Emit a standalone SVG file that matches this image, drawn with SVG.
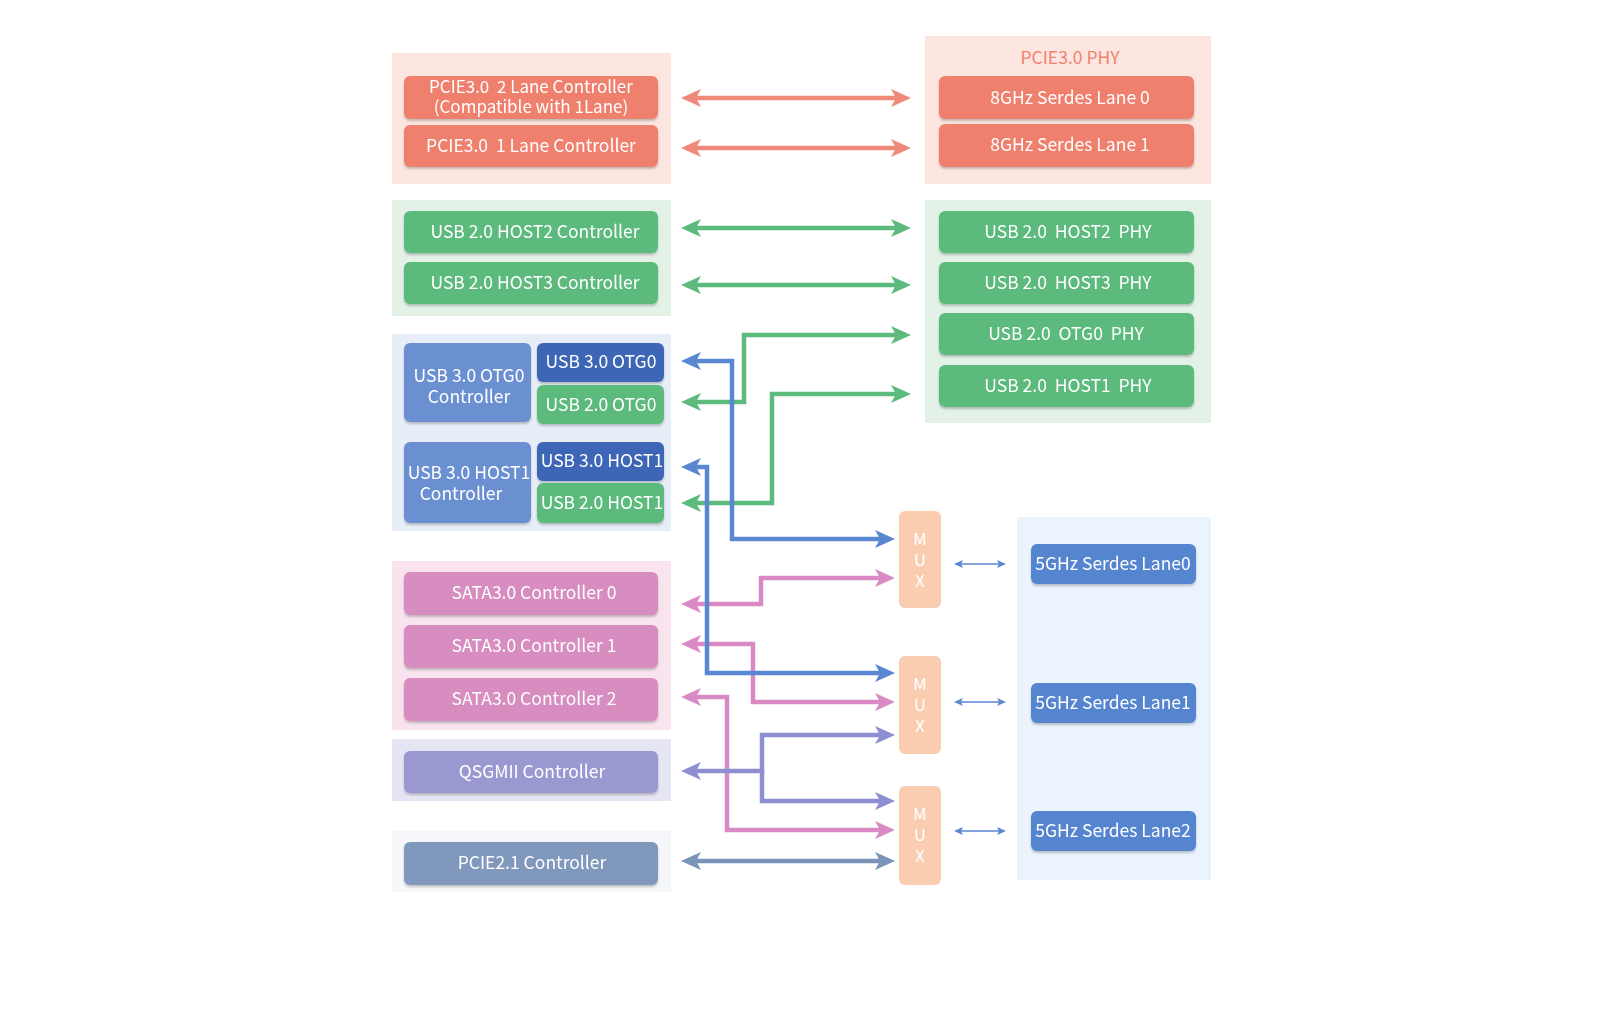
<svg xmlns="http://www.w3.org/2000/svg" width="1604" height="1028" viewBox="0 0 1604 1028">
<style>
text{font-family:"Noto Sans CJK SC","Noto Sans",sans-serif;font-size:17.5px;fill:#fff;text-anchor:middle;white-space:pre}
.two{font-size:17px}
.mux text{font-size:16.5px}
.box{filter:url(#sh)}
.c{fill:none;stroke-width:4.5;stroke-linejoin:miter}
.thin{fill:none;stroke:#5a87d2;stroke-width:1.5}
</style>
<defs>
<filter id="sh" x="-5%" y="-10%" width="110%" height="130%"><feDropShadow dx="0" dy="2" stdDeviation="0.8" flood-color="#000" flood-opacity="0.22"/></filter>
<marker id="aR" markerUnits="userSpaceOnUse" markerWidth="22" markerHeight="20" refX="14" refY="9" orient="auto-start-reverse"><path d="M0,0 L20,9 L0,18 L5,9 z" fill="#ef8a7a"/></marker>
<marker id="aG" markerUnits="userSpaceOnUse" markerWidth="22" markerHeight="20" refX="14" refY="9" orient="auto-start-reverse"><path d="M0,0 L20,9 L0,18 L5,9 z" fill="#5dba7d"/></marker>
<marker id="aB" markerUnits="userSpaceOnUse" markerWidth="22" markerHeight="20" refX="14" refY="9" orient="auto-start-reverse"><path d="M0,0 L20,9 L0,18 L5,9 z" fill="#5a87d2"/></marker>
<marker id="aP" markerUnits="userSpaceOnUse" markerWidth="22" markerHeight="20" refX="14" refY="9" orient="auto-start-reverse"><path d="M0,0 L20,9 L0,18 L5,9 z" fill="#d98ac4"/></marker>
<marker id="aV" markerUnits="userSpaceOnUse" markerWidth="22" markerHeight="20" refX="14" refY="9" orient="auto-start-reverse"><path d="M0,0 L20,9 L0,18 L5,9 z" fill="#8e8ed2"/></marker>
<marker id="aS" markerUnits="userSpaceOnUse" markerWidth="22" markerHeight="20" refX="14" refY="9" orient="auto-start-reverse"><path d="M0,0 L20,9 L0,18 L5,9 z" fill="#7a93b8"/></marker>
<marker id="aT" markerUnits="userSpaceOnUse" markerWidth="10" markerHeight="10" refX="6" refY="4" orient="auto-start-reverse"><path d="M0,0 L9,4 L0,8 L2,4 z" fill="#5a87d2"/></marker>
</defs>
<rect width="1604" height="1028" fill="#fff"/>

<!-- panels -->
<g id="panels">
<rect x="392" y="53" width="279" height="131" fill="#fde6e0"/>
<rect x="925" y="36" width="286" height="148" fill="#fde6e0"/>
<rect x="392" y="200" width="279" height="116" fill="#e3f1e7"/>
<rect x="925" y="200" width="286" height="223" fill="#e3f1e7"/>
<rect x="392" y="334" width="279" height="197" fill="#e8eef8"/>
<rect x="392" y="561" width="279" height="169" fill="#f8e3ef"/>
<rect x="392" y="739" width="279" height="62" fill="#e6e5f3"/>
<rect x="392" y="831" width="279" height="61" fill="#f5f7fb"/>
<rect x="1017" y="517" width="194" height="363" fill="#ebf3fd"/>
<text x="1070" y="64" style="fill:#f0826c">PCIE3.0 PHY</text>
</g>

<!-- connectors -->
<g id="connectors">
<path class="c" stroke="#ef8a7a" d="M687,98 H905" marker-start="url(#aR)" marker-end="url(#aR)"/>
<path class="c" stroke="#ef8a7a" d="M687,148 H905" marker-start="url(#aR)" marker-end="url(#aR)"/>
<path class="c" stroke="#5dba7d" d="M687,228 H905" marker-start="url(#aG)" marker-end="url(#aG)"/>
<path class="c" stroke="#5dba7d" d="M687,285 H905" marker-start="url(#aG)" marker-end="url(#aG)"/>
<path class="c" stroke="#5dba7d" d="M687,402 H744 V335 H905" marker-start="url(#aG)" marker-end="url(#aG)"/>
<path class="c" stroke="#5dba7d" d="M687,503 H772 V394 H905" marker-start="url(#aG)" marker-end="url(#aG)"/>
<path class="c" stroke="#d98ac4" d="M687,604 H761 V578 H889" marker-start="url(#aP)" marker-end="url(#aP)"/>
<path class="c" stroke="#d98ac4" d="M687,644 H753 V702 H889" marker-start="url(#aP)" marker-end="url(#aP)"/>
<path class="c" stroke="#d98ac4" d="M687,697 H727 V830 H889" marker-start="url(#aP)" marker-end="url(#aP)"/>
<path class="c" stroke="#5a87d2" d="M687,361 H732 V539 H889" marker-start="url(#aB)" marker-end="url(#aB)"/>
<path class="c" stroke="#5a87d2" d="M687,467 H707 V673 H889" marker-start="url(#aB)" marker-end="url(#aB)"/>
<path class="c" stroke="#8e8ed2" d="M687,771 H762 V735 H889" marker-start="url(#aV)" marker-end="url(#aV)"/>
<path class="c" stroke="#8e8ed2" d="M762,769 V801 H889" marker-end="url(#aV)"/>
<path class="c" stroke="#7a93b8" d="M687,861 H889" marker-start="url(#aS)" marker-end="url(#aS)"/>
<path class="thin" d="M957,564 H1003" marker-start="url(#aT)" marker-end="url(#aT)"/>
<path class="thin" d="M957,702 H1003" marker-start="url(#aT)" marker-end="url(#aT)"/>
<path class="thin" d="M957,831 H1003" marker-start="url(#aT)" marker-end="url(#aT)"/>
</g>

<!-- nodes -->
<g id="pcie3-2lane" class="box"><rect x="404" y="76" width="254" height="43" rx="6" fill="#f0806e"/><text class="two" x="531" y="93">PCIE3.0  2 Lane Controller</text><text class="two" x="531" y="113">(Compatible with 1Lane)</text></g>
<g id="pcie3-1lane" class="box"><rect x="404" y="125" width="254" height="42" rx="6" fill="#f0806e"/><text x="531" y="152">PCIE3.0  1 Lane Controller</text></g>
<g id="serdes8-0" class="box"><rect x="939" y="76" width="255" height="43" rx="6" fill="#f0806e"/><text x="1070" y="104">8GHz Serdes Lane 0</text></g>
<g id="serdes8-1" class="box"><rect x="939" y="124" width="255" height="43" rx="6" fill="#f0806e"/><text x="1070" y="151">8GHz Serdes Lane 1</text></g>

<g id="usb2-host2-ctrl" class="box"><rect x="404" y="211" width="254" height="42" rx="6" fill="#5dba7d"/><text x="535" y="238">USB 2.0 HOST2 Controller</text></g>
<g id="usb2-host3-ctrl" class="box"><rect x="404" y="262" width="254" height="42" rx="6" fill="#5dba7d"/><text x="535" y="289">USB 2.0 HOST3 Controller</text></g>
<g id="usb2-host2-phy" class="box"><rect x="939" y="211" width="255" height="42" rx="6" fill="#5dba7d"/><text x="1068" y="238">USB 2.0  HOST2  PHY</text></g>
<g id="usb2-host3-phy" class="box"><rect x="939" y="262" width="255" height="42" rx="6" fill="#5dba7d"/><text x="1068" y="289">USB 2.0  HOST3  PHY</text></g>
<g id="usb2-otg0-phy" class="box"><rect x="939" y="313" width="255" height="42" rx="6" fill="#5dba7d"/><text x="1066" y="340">USB 2.0  OTG0  PHY</text></g>
<g id="usb2-host1-phy" class="box"><rect x="939" y="365" width="255" height="42" rx="6" fill="#5dba7d"/><text x="1068" y="392">USB 2.0  HOST1  PHY</text></g>

<g id="usb3-otg0-ctrl" class="box"><rect x="404" y="343" width="127" height="79" rx="6" fill="#6b90d2"/><text x="469" y="382">USB 3.0 OTG0</text><text x="469" y="403">Controller</text></g>
<g id="usb3-otg0" class="box"><rect x="537" y="343" width="127" height="39" rx="6" fill="#3e66b6"/><text x="601" y="368">USB 3.0 OTG0</text></g>
<g id="usb2-otg0" class="box"><rect x="537" y="385" width="127" height="39" rx="6" fill="#5dba7d"/><text x="601" y="411">USB 2.0 OTG0</text></g>
<g id="usb3-host1-ctrl" class="box"><rect x="404" y="442" width="127" height="81" rx="6" fill="#6b90d2"/><text x="469" y="479">USB 3.0 HOST1</text><text x="461" y="500">Controller</text></g>
<g id="usb3-host1" class="box"><rect x="537" y="442" width="127" height="39" rx="6" fill="#3e66b6"/><text x="602" y="467">USB 3.0 HOST1</text></g>
<g id="usb2-host1" class="box"><rect x="537" y="483" width="127" height="40" rx="6" fill="#5dba7d"/><text x="602" y="509">USB 2.0 HOST1</text></g>

<g id="sata0" class="box"><rect x="404" y="572" width="254" height="43" rx="6" fill="#d78dc0"/><text x="534" y="599">SATA3.0 Controller 0</text></g>
<g id="sata1" class="box"><rect x="404" y="625" width="254" height="43" rx="6" fill="#d78dc0"/><text x="534" y="652">SATA3.0 Controller 1</text></g>
<g id="sata2" class="box"><rect x="404" y="678" width="254" height="43" rx="6" fill="#d78dc0"/><text x="534" y="705">SATA3.0 Controller 2</text></g>
<g id="qsgmii" class="box"><rect x="404" y="751" width="254" height="42" rx="6" fill="#9a98d0"/><text x="532" y="778">QSGMII Controller</text></g>
<g id="pcie21" class="box"><rect x="404" y="842" width="254" height="43" rx="6" fill="#7f98bc"/><text x="532" y="869">PCIE2.1 Controller</text></g>

<g id="mux1" class="mux"><rect x="899" y="511" width="42" height="97" rx="6" fill="#fbcdb0"/><text x="920" y="545">M</text><text x="920" y="566">U</text><text x="920" y="587">X</text></g>
<g id="mux2" class="mux"><rect x="899" y="656" width="42" height="98" rx="6" fill="#fbcdb0"/><text x="920" y="690">M</text><text x="920" y="711">U</text><text x="920" y="732">X</text></g>
<g id="mux3" class="mux"><rect x="899" y="786" width="42" height="99" rx="6" fill="#fbcdb0"/><text x="920" y="820">M</text><text x="920" y="841">U</text><text x="920" y="862">X</text></g>

<g id="serdes5-0" class="box"><rect x="1031" y="544" width="165" height="40" rx="6" fill="#5585cf"/><text x="1113" y="570">5GHz Serdes Lane0</text></g>
<g id="serdes5-1" class="box"><rect x="1031" y="683" width="165" height="40" rx="6" fill="#5585cf"/><text x="1113" y="709">5GHz Serdes Lane1</text></g>
<g id="serdes5-2" class="box"><rect x="1031" y="811" width="165" height="40" rx="6" fill="#5585cf"/><text x="1113" y="837">5GHz Serdes Lane2</text></g>
</svg>
